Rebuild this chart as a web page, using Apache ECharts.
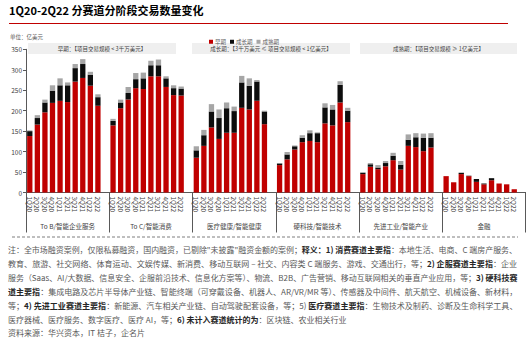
<!DOCTYPE html>
<html>
<head>
<meta charset="utf-8">
<script src="https://cdn.jsdelivr.net/npm/echarts@6/dist/echarts.min.js"></script>
<style>
html,body{margin:0;padding:0;background:#fff;}
#c{width:526px;height:338px;}
</style>
</head>
<body>
<div id="c"></div>
<script>
const quarters = ['1Q20','2Q20','3Q20','4Q20','1Q21','2Q21','3Q21','4Q21','1Q22','2Q22'];
const sectors = ['To B/智能企业服务','To C/智能消费','医疗健康/智能健康','硬科技/智能技术','先进工业/智能产业','金融'];
const stageNames = ['早期','成长期','成熟期'];
const yTicks = [0,50,100,150,200,250,300,350];

const toBEarly  = [138,166,196,219,224,221,271,280,261,212];
const toBGrowth = [12,16,24,30,38,41,33,34,27,21];
const toBMature = [2,7,7,13,17,7,10,12,7,7];

const toCEarly  = [164,206,227,255,253,284,284,258,238,237];
const toCGrowth = [11,14,16,22,26,27,27,21,17,17];
const toCMature = [5,7,15,15,14,11,14,5,7,5];

const healthEarly  = [85,114,159,131,146,146,207,203,224,167];
const healthGrowth = [18,26,39,51,60,53,62,58,47,31];
const healthMature = [10,13,18,21,14,11,16,18,4,2];

const techEarly  = [67,81,105,123,126,123,169,164,220,172];
const techGrowth = [4,12,8,11,19,22,39,39,43,28];
const techMature = [1,6,2,6,7,2,10,11,9,7];

const indEarly  = [45,63,57,64,79,56,114,111,101,110];
const indGrowth = [3,6,4,8,11,12,15,24,33,24];
const indMature = [2,3,6,5,7,9,13,10,10,11];

const finEarly  = [40,25,45,40,26,20,30,22,20,8];
const finGrowth = [0,0,3,1,7,2,5,0,0,0];
const finMature = [0,0,1,0,0,0,0,0,0,0];

const earlyGroups  = [toBEarly, toCEarly, healthEarly, techEarly, indEarly, finEarly];
const growthGroups = [toBGrowth, toCGrowth, healthGrowth, techGrowth, indGrowth, finGrowth];
const matureGroups = [toBMature, toCMature, healthMature, techMature, indMature, finMature];

const boxTexts = ['早期：【项目交易规模 < 3千万美元】','成长期：【3千万美元 ≤ 项目交易规模 < 1亿美元】','成熟期：【项目交易规模 ≥ 1亿美元】'];

const noteLines = [
  '注：全市场融资案例，仅限私募融资，国内融资，已剔除"未披露"融资金额的案例；{b|释义：1) 消费赛道主要指}：本地生活、电商、C 端房产服务、',
  '教育、旅游、社交网络、体育运动、文娱传媒、新消费、移动互联网 – 社交、内容类 C 端服务、游戏、交通出行，等；{b|2) 企服赛道主要指}：企业',
  '服务（Saas、AI/大数据、信息安全、企服前沿技术、信息化方案等）、物流、B2B、广告营销、移动互联网相关的垂直产业应用，等；{b|3) 硬科技赛}',
  '{b|道主要指}：集成电路及芯片半导体产业链、智能终端（可穿戴设备、机器人、AR/VR/MR 等）、传感器及中间件、航天航空、机械设备、新材料，',
  '等；{b|4) 先进工业赛道主要指}：新能源、汽车相关产业链、自动驾驶配套设备，等；5) {b|医疗赛道主要指}：生物技术及制药、诊断及生命科学工具、',
  '医疗器械、医疗服务、数字医疗、医疗 AI，等；{b|6) 未计入赛道统计的为}：区块链、农业相关行业',
  '资料来源：华兴资本，IT 桔子，企名片'
];

const cats = [];
function flat(groups){
  const out = [];
  groups.forEach(g => { g.forEach(v => out.push(v)); out.push('-'); });
  return out;
}
sectors.forEach(() => { quarters.forEach(q => cats.push(q)); cats.push(''); });

const colors = ['#c00000','#0d0d0d','#a6a6a6'];
const stageData = [flat(earlyGroups), flat(growthGroups), flat(matureGroups)];

const chart = echarts.init(document.getElementById('c'), null, {renderer:'svg'});

const FONT = '"Noto Sans CJK SC","Noto Sans",sans-serif';

const ctx = document.createElement('canvas').getContext('2d');
function lineWidth(t, size){
  let w = 0;
  const parts = t.split(/(\{b\|[^}]*\})/);
  parts.forEach(p => {
    if (!p) return;
    const m = p.match(/^\{b\|([^}]*)\}$/);
    if (m) { ctx.font = 'bold ' + size + 'px ' + FONT; w += ctx.measureText(m[1]).width; }
    else { ctx.font = size + 'px ' + FONT; w += ctx.measureText(p).width; }
  });
  return w;
}
const TARGET = 510;
const fitSizes = noteLines.map((t,i) => Math.min(8.2, 8 * TARGET / lineWidth(t, 8)));
const fullAvg = fitSizes.slice(0,5).reduce((a,b)=>a+b,0)/5;
const noteSizes = fitSizes.map((s,i) => i < 5 ? s : Math.min(s, fullAvg));

const graphics = [
  {type:'text', left:9, top:4, style:{text:'1Q20-2Q22 分赛道分阶段交易数量变化', font:'bold 11px '+FONT, fill:'#000'}},
  {type:'line', shape:{x1:9,y1:23.5,x2:508,y2:23.5}, style:{stroke:'#c00000', lineWidth:1.2}},
  {type:'text', left:10, top:34, style:{text:'单位：亿美元', font:'5.5px '+FONT, fill:'#595959'}},
  {type:'line', shape:{x1:12,y1:237,x2:518,y2:237}, style:{stroke:'#7f7f7f', lineWidth:1, lineDash:[3,2]}}
];
const boxes = [[28,176],[192,350],[360,517]];
boxes.forEach((b,i) => {
  graphics.push({type:'rect', shape:{x:b[0], y:43, width:b[1]-b[0], height:11}, style:{fill:'#efefef'}, z:0});
  graphics.push({type:'text', x:(b[0]+b[1])/2, y:48.5, style:{text:boxTexts[i], font:'5.5px '+FONT, fill:'#404040', align:'center', verticalAlign:'middle'}, z:1});
});
const noteY = [249.5,263.4,277.3,291.2,305.1,319,332.4];
noteLines.forEach((t,i) => {
  const s = noteSizes[i];
  graphics.push({type:'text', x:8, y:noteY[i], style:{text:t, fontSize:s, fontFamily:FONT, fill:'#595959', verticalAlign:'middle',
    rich:{b:{fontWeight:'bold', fill:'#262626', fontSize:s, fontFamily:FONT}}}});
});

chart.setOption({
  animation:false,
  textStyle:{fontFamily:FONT},
  legend:{
    data:stageNames, left:204, top:34, itemWidth:4, itemHeight:4, itemGap:4, icon:'rect',
    textStyle:{fontSize:5.5, color:'#595959', padding:[0,0,0,-3]}
  },
  grid:{left:26, right:0.4, top:49.3, bottom:145.5, containLabel:false},
  xAxis:[
    {type:'category', data:cats, boundaryGap:true,
     axisLine:{show:true, lineStyle:{color:'#595959', width:1}},
     axisTick:{show:false},
     axisLabel:{interval:0, rotate:-90, fontSize:6.5, color:'#404040', margin:4}},
    {type:'category', data:sectors, boundaryGap:true, position:'bottom',
     axisLine:{show:false},
     axisTick:{show:true, length:40, interval:0, lineStyle:{color:'#595959', width:1}},
     axisLabel:{interval:0, fontSize:6.5, color:'#404040', margin:30}}
  ],
  yAxis:{type:'value', min:yTicks[0], max:yTicks[yTicks.length-1], interval:50,
    axisLine:{show:true, lineStyle:{color:'#595959', width:1}},
    axisTick:{show:true, length:3, lineStyle:{color:'#595959'}},
    splitLine:{show:false},
    axisLabel:{fontSize:6.5, color:'#404040', margin:4}},
  series: stageNames.map((n,i) => ({
    name:n, type:'bar', stack:'total', barWidth:'70%', xAxisIndex:0,
    itemStyle:{color:colors[i]}, data:stageData[i]
  })),
  graphic:graphics
});
</script>
</body>
</html>
